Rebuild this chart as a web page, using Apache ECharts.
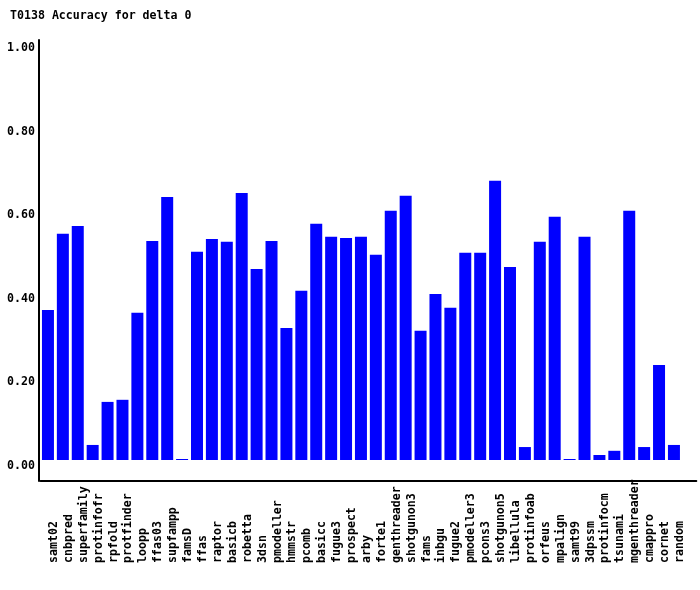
<!DOCTYPE html>
<html>
<head>
<meta charset="utf-8">
<script src="https://cdn.jsdelivr.net/npm/echarts@6/dist/echarts.min.js"></script>
<style>
html,body{margin:0;padding:0;background:#fff;}
#chart{width:700px;height:590px;}
</style>
</head>
<body>
<div id="chart"></div>
<script>
const title = 'T0138 Accuracy for delta 0';
const categories = ['samt02','cnbpred','superfamily','protinfofr','rpfold','protfinder','loopp','ffas03','supfampp','famsD','ffas','raptor','basicb','robetta','3dsn','pmodeller','hmmstr','pcomb','basicc','fugue3','prospect','arby','forte1','genthreader','shotgunon3','fams','inbgu','fugue2','pmodeller3','pcons3','shotgunon5','libellula','protinfoab','orfeus','mpalign','samt99','3dpssm','protinfocm','tsunami','mgenthreader','cmappro','cornet','random'];
const values = [0.359,0.541,0.560,0.036,0.139,0.144,0.352,0.524,0.629,0.0024,0.498,0.529,0.522,0.639,0.457,0.524,0.316,0.405,0.565,0.534,0.531,0.534,0.491,0.596,0.632,0.309,0.397,0.364,0.496,0.496,0.668,0.462,0.031,0.522,0.582,0.0024,0.534,0.012,0.022,0.596,0.031,0.227,0.036];
const yTicks = [0, 0.2, 0.4, 0.6, 0.8, 1.0];

const FONT = '"DejaVu Sans Mono", monospace';
const chart = echarts.init(document.getElementById('chart'), null, {renderer: 'canvas'});
chart.setOption({
  animation: false,
  backgroundColor: '#ffffff',
  title: {
    text: title, left: 10, top: 10, padding: 0,
    textStyle: {fontFamily: FONT, fontWeight: 'bold', fontSize: 11.6, color: '#000'}
  },
  grid: {left: 40.5, top: 40, width: 655.8, bottom: 109, containLabel: false, outerBoundsMode: 'none'},
  xAxis: {
    type: 'category',
    data: categories,
    max: categories.length,
    boundaryGap: true,
    axisLine: {show: true, onZero: false, lineStyle: {color: '#000', width: 2}},
    axisTick: {show: false},
    splitLine: {show: false},
    axisLabel: {
      interval: 0, rotate: 90, margin: 82, align: 'left', verticalAlign: 'top',
      fontFamily: FONT, fontWeight: 'bold', fontSize: 11.6, color: '#000',
      hideOverlap: false,
      formatter: function (v, i) { return i < categories.length ? v : ''; }
    }
  },
  yAxis: {
    type: 'value',
    min: -0.05024, max: 1.00478,
    offset: 1.5,
    axisLine: {show: true, lineStyle: {color: '#000', width: 2}},
    axisTick: {show: false},
    splitLine: {show: false},
    axisLabel: {
      customValues: yTicks, margin: 4, verticalAlign: 'top',
      fontFamily: FONT, fontWeight: 'bold', fontSize: 11.6, color: '#000',
      formatter: function (v) { return v.toFixed(2); }
    }
  },
  series: [{
    type: 'bar',
    data: values,
    barWidth: 12,
    itemStyle: {color: '#0000ff'},
    silent: true
  }]
});
</script>
</body>
</html>
